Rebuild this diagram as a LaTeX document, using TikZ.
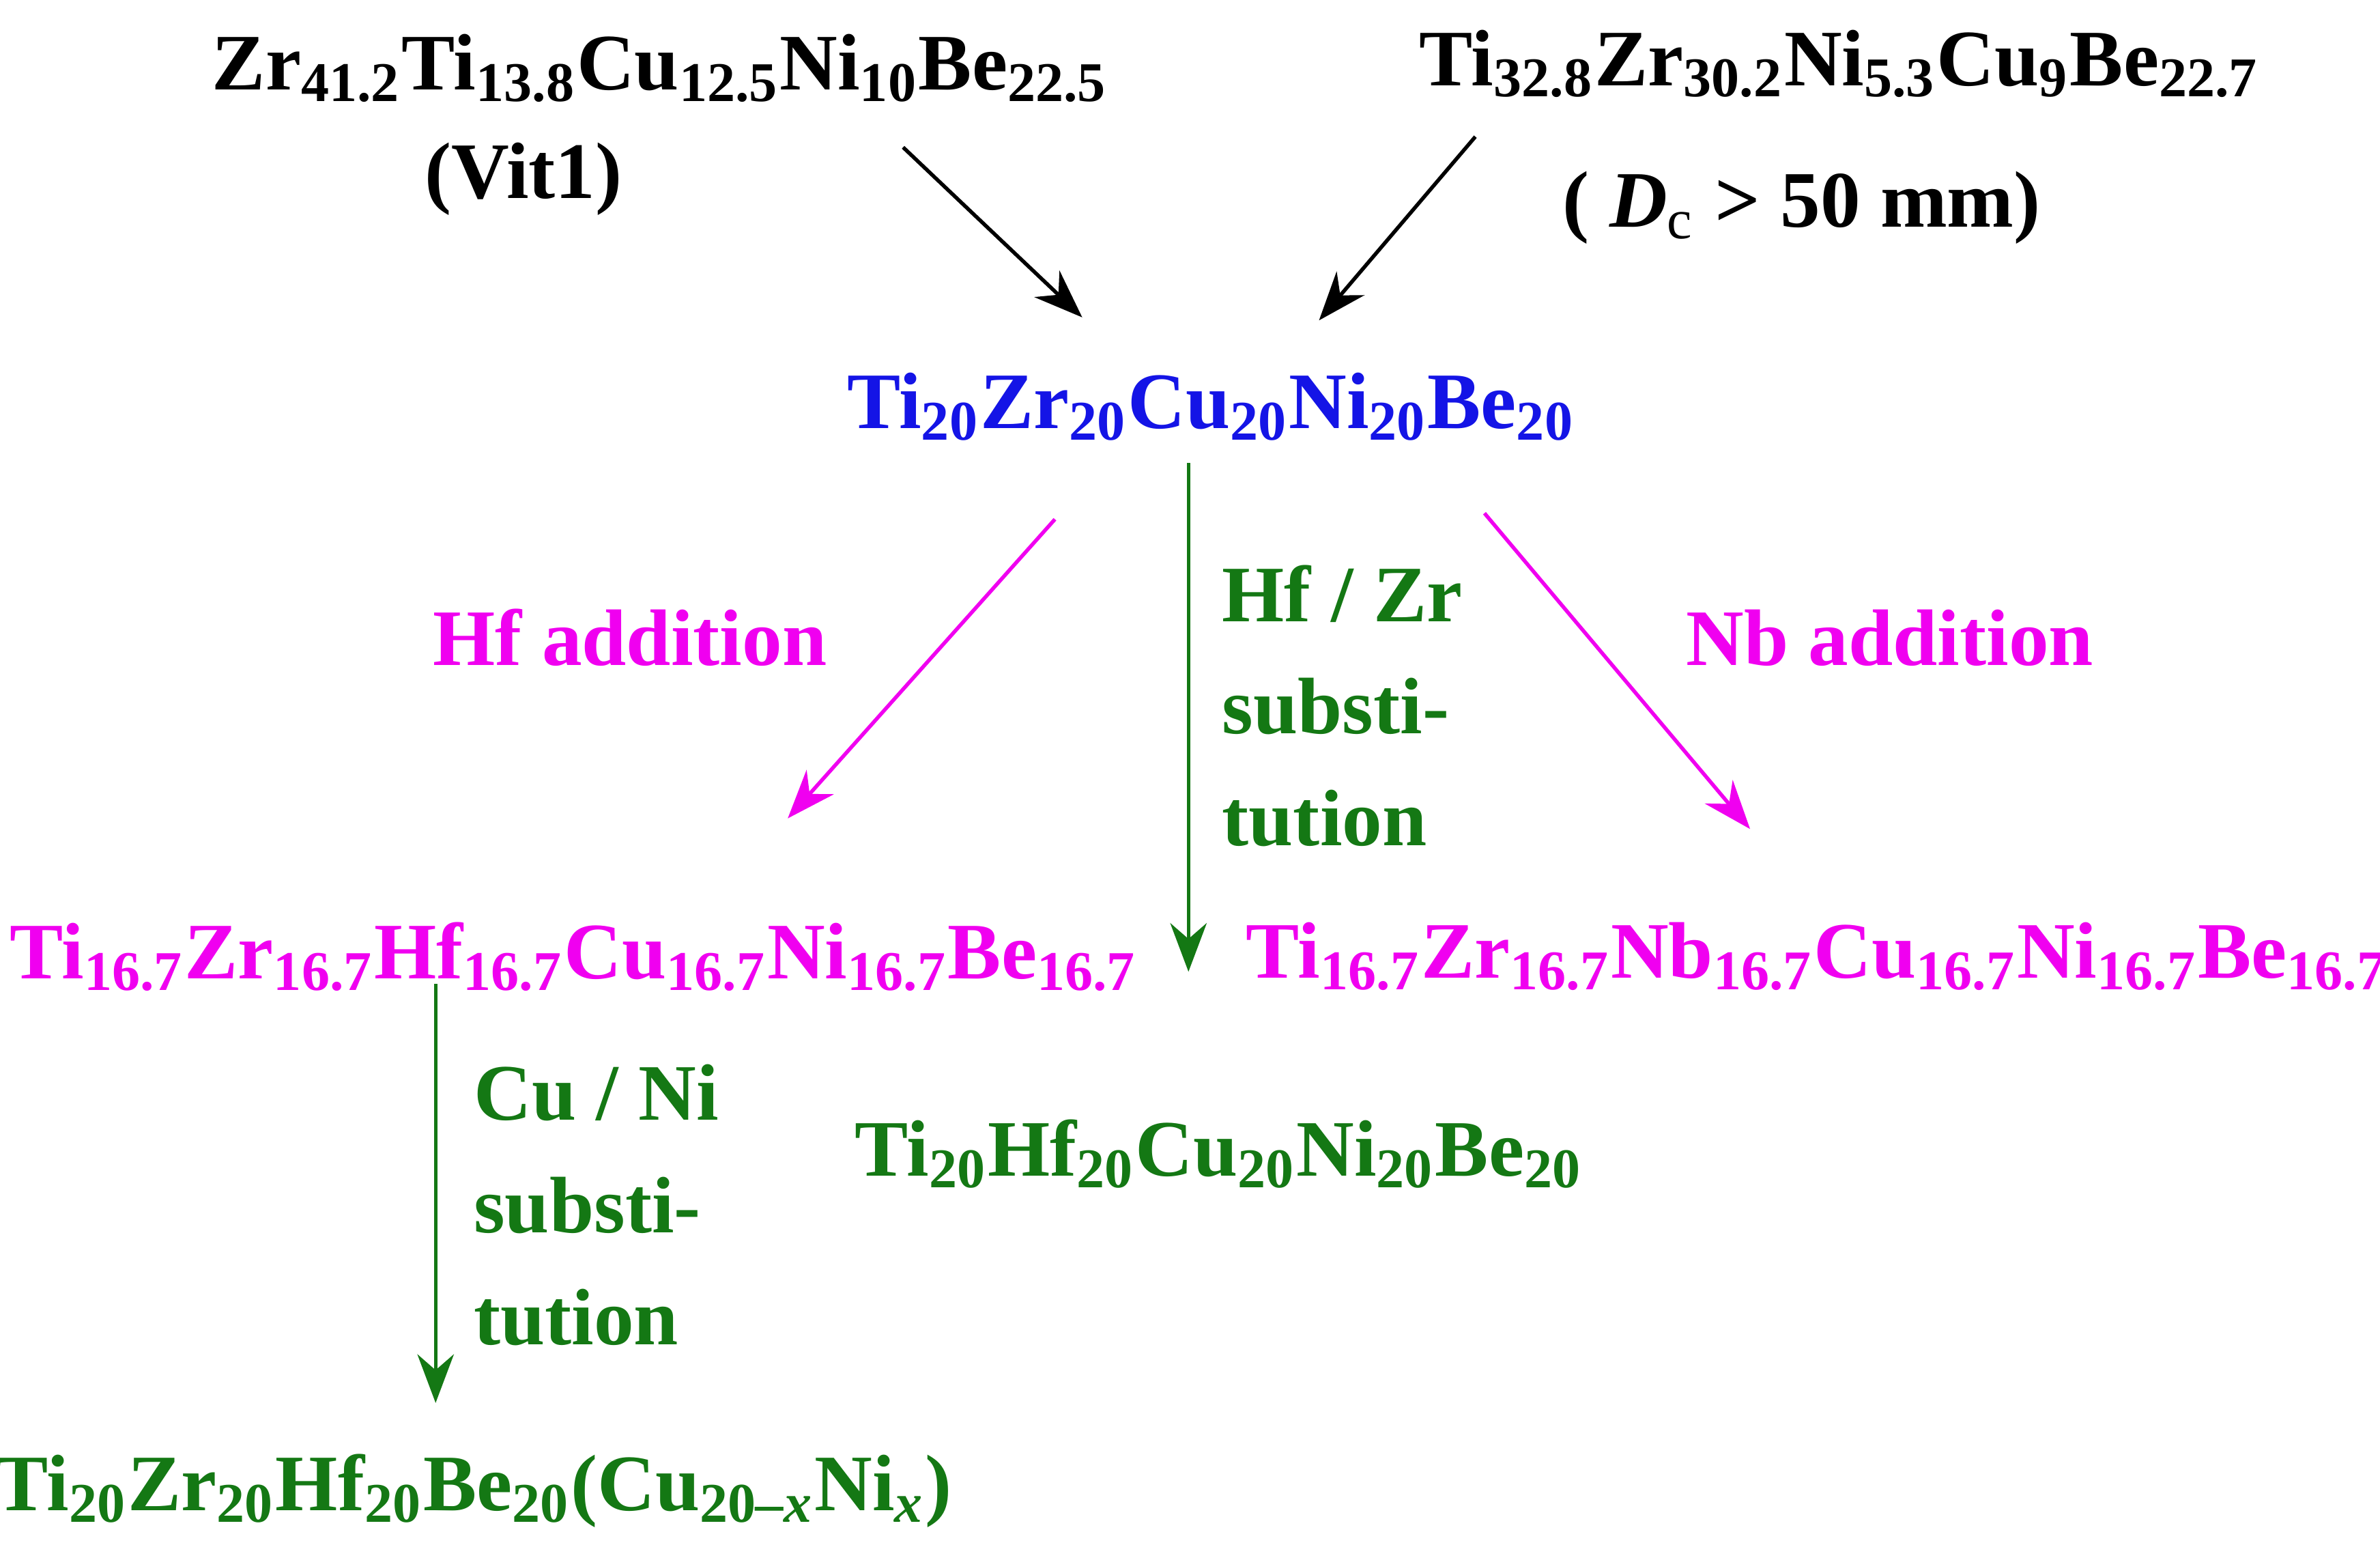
\documentclass[tikz,border=0pt]{standalone}
\usepackage{fontspec}
\setmainfont{Liberation Serif}
\usetikzlibrary{arrows.meta, positioning}
\definecolor{alloyblue}{RGB}{20, 20, 230}
\definecolor{addmagenta}{RGB}{240, 0, 240}
\definecolor{subgreen}{RGB}{20, 120, 20}
\newcommand{\el}[2]{#1\textsubscript{#2}}

\begin{document}
\begin{tikzpicture}[
    x=0.01cm, y=-0.01cm,
    formula/.style={font=\fontsize{15}{18}\selectfont\bfseries, inner sep=1pt},
    label/.style={font=\fontsize{15}{21}\selectfont\bfseries, align=left, inner sep=1pt},
    arrow/.style={-{Stealth[length=3.2mm, width=2.4mm]}, line width=0.7pt}
]
\useasboundingbox (0,0) rectangle (1568,1026);

% Parent alloys
\node[formula] (vit) at (435,45) {\el{Zr}{41.2}\el{Ti}{13.8}\el{Cu}{12.5}\el{Ni}{10}\el{Be}{22.5}};
\node[formula] (vitname) at (345,118) {(Vit1)};
\node[formula] (tizr) at (1212,42) {\el{Ti}{32.8}\el{Zr}{30.2}\el{Ni}{5.3}\el{Cu}{9}\el{Be}{22.7}};
\node[formula] (dc) at (1187,137) {( \textit{D}\textsubscript{\normalfont c} > 50 mm)};

% Base alloy
\node[formula, alloyblue] (base) at (798,268) {\el{Ti}{20}\el{Zr}{20}\el{Cu}{20}\el{Ni}{20}\el{Be}{20}};

% Derived alloys
\node[formula, addmagenta] (hfalloy) at (378,630) {\el{Ti}{16.7}\el{Zr}{16.7}\el{Hf}{16.7}\el{Cu}{16.7}\el{Ni}{16.7}\el{Be}{16.7}};
\node[formula, addmagenta] (nballoy) at (1197,630) {\el{Ti}{16.7}\el{Zr}{16.7}\el{Nb}{16.7}\el{Cu}{16.7}\el{Ni}{16.7}\el{Be}{16.7}};
\node[formula, subgreen] (hfzralloy) at (803,760) {\el{Ti}{20}\el{Hf}{20}\el{Cu}{20}\el{Ni}{20}\el{Be}{20}};
\node[formula, subgreen] (cunialloy) at (312,982) {\el{Ti}{20}\el{Zr}{20}\el{Hf}{20}\el{Be}{20}(\el{Cu}{20\textit{--x}}\el{Ni}{\textit{x}})};

% Labels
\node[label, addmagenta] (hflabel) at (415,420) {Hf addition};
\node[label, addmagenta] (nblabel) at (1245,420) {Nb addition};
\node[label, subgreen, anchor=north west] (hfzrlabel) at (801,368) {Hf / Zr\\substi-\\tution};
\node[label, subgreen, anchor=north west] (cunilabel) at (308,697) {Cu / Ni\\substi-\\tution};

% Arrow ends
\coordinate (a1s) at (595,97);  \coordinate (a1e) at (713,209);
\coordinate (a2s) at (972,90);  \coordinate (a2e) at (869,211);
\coordinate (a3s) at (695,342); \coordinate (a3e) at (519,539);
\coordinate (a4s) at (978,338); \coordinate (a4e) at (1153,546);
\coordinate (a5s) at (783,305); \coordinate (a5e) at (783,640);
\coordinate (a6s) at (287,648); \coordinate (a6e) at (287,924);

\draw[arrow] (a1s) -- (a1e);
\draw[arrow] (a2s) -- (a2e);
\draw[arrow, addmagenta] (a3s) -- (a3e);
\draw[arrow, addmagenta] (a4s) -- (a4e);
\draw[arrow, subgreen] (a5s) -- (a5e);
\draw[arrow, subgreen] (a6s) -- (a6e);
\end{tikzpicture}
\end{document}
